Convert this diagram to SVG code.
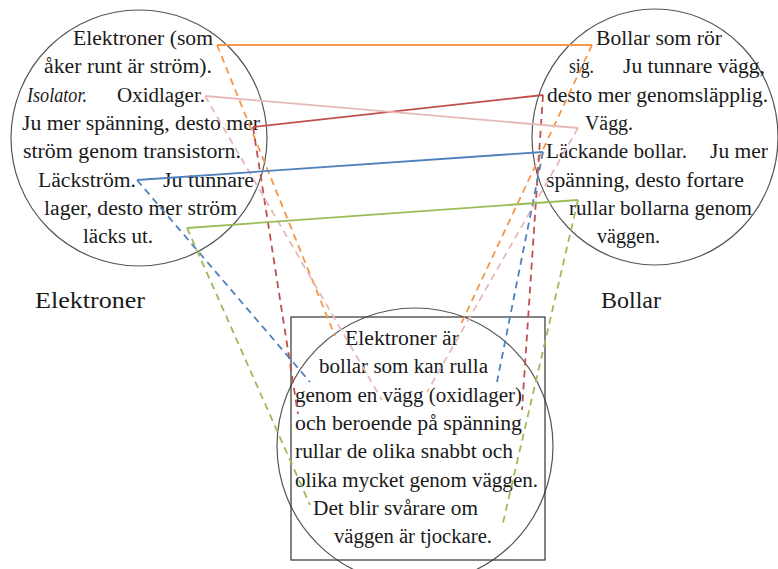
<svg xmlns="http://www.w3.org/2000/svg" width="778" height="569" viewBox="0 0 778 569">
<style>
text{font-family:'Liberation Serif','Times New Roman',Times,'DejaVu Serif','Noto Serif',FreeSerif,Georgia,serif;fill:#1a1a1a}
.t{font-size:20px}
.lb{font-size:24px}
.c{fill:none;stroke:#555;stroke-width:1.2}
.s{fill:none;stroke-width:1.8}
.d{fill:none;stroke-width:1.8;stroke-dasharray:7 5}
.or{stroke:#F79646}.rd{stroke:#C0504D}.pk{stroke:#E6B9B8}.bl{stroke:#4F81BD}.gr{stroke:#9BBB59}
</style>
<rect width="778" height="569" fill="#fff"/>
<g id="elektroner">
<ellipse class="c" cx="139" cy="138" rx="128" ry="128"/>
<text class="t" x="73" y="45" textLength="140" lengthAdjust="spacingAndGlyphs">Elektroner (som</text>
<text class="t" x="44" y="73" textLength="168" lengthAdjust="spacingAndGlyphs">åker runt är ström).</text>
<text class="t" x="27" y="102" textLength="60" lengthAdjust="spacingAndGlyphs" font-style="italic">Isolator.</text>
<text class="t" x="117" y="102" textLength="88" lengthAdjust="spacingAndGlyphs">Oxidlager.</text>
<text class="t" x="22" y="130" textLength="238" lengthAdjust="spacingAndGlyphs">Ju mer spänning, desto mer</text>
<text class="t" x="23" y="158" textLength="218" lengthAdjust="spacingAndGlyphs">ström genom transistorn.</text>
<text class="t" x="38" y="187" textLength="98" lengthAdjust="spacingAndGlyphs">Läckström.</text>
<text class="t" x="163" y="187" textLength="91" lengthAdjust="spacingAndGlyphs">Ju tunnare</text>
<text class="t" x="44" y="215" textLength="193" lengthAdjust="spacingAndGlyphs">lager, desto mer ström</text>
<text class="t" x="83" y="243" textLength="70" lengthAdjust="spacingAndGlyphs">läcks ut.</text>
</g>
<g id="bollar">
<ellipse class="c" cx="655" cy="137" rx="123" ry="128"/>
<text class="t" x="596" y="45" textLength="126" lengthAdjust="spacingAndGlyphs">Bollar som rör</text>
<text class="t" x="569" y="73" textLength="25" lengthAdjust="spacingAndGlyphs">sig.</text>
<text class="t" x="623" y="73" textLength="142" lengthAdjust="spacingAndGlyphs">Ju tunnare vägg,</text>
<text class="t" x="547" y="102" textLength="221" lengthAdjust="spacingAndGlyphs">desto mer genomsläpplig.</text>
<text class="t" x="585" y="130" textLength="48" lengthAdjust="spacingAndGlyphs">Vägg.</text>
<text class="t" x="546" y="158" textLength="141" lengthAdjust="spacingAndGlyphs">Läckande bollar.</text>
<text class="t" x="710" y="158" textLength="58" lengthAdjust="spacingAndGlyphs">Ju mer</text>
<text class="t" x="546" y="187" textLength="198" lengthAdjust="spacingAndGlyphs">spänning, desto fortare</text>
<text class="t" x="569" y="215" textLength="183" lengthAdjust="spacingAndGlyphs">rullar bollarna genom</text>
<text class="t" x="597" y="243" textLength="63" lengthAdjust="spacingAndGlyphs">väggen.</text>
</g>
<g id="label-elektroner">
<text class="lb" x="35" y="308" textLength="110" lengthAdjust="spacingAndGlyphs">Elektroner</text>
</g>
<g id="label-bollar">
<text class="lb" x="601" y="308" textLength="60" lengthAdjust="spacingAndGlyphs">Bollar</text>
</g>
<g id="sammanfattning">
<ellipse class="c" cx="415" cy="446" rx="138" ry="138"/>
<rect x="291" y="317" width="254" height="243" fill="none" stroke="#333" stroke-width="1.2"/>
<text class="t" x="345" y="345" textLength="114" lengthAdjust="spacingAndGlyphs">Elektroner är</text>
<text class="t" x="319" y="373" textLength="169" lengthAdjust="spacingAndGlyphs">bollar som kan rulla</text>
<text class="t" x="295" y="402" textLength="227" lengthAdjust="spacingAndGlyphs">genom en vägg (oxidlager)</text>
<text class="t" x="295" y="430" textLength="227" lengthAdjust="spacingAndGlyphs">och beroende på spänning</text>
<text class="t" x="295" y="458" textLength="218" lengthAdjust="spacingAndGlyphs">rullar de olika snabbt och</text>
<text class="t" x="295" y="487" textLength="243" lengthAdjust="spacingAndGlyphs">olika mycket genom väggen.</text>
<text class="t" x="313" y="515" textLength="165" lengthAdjust="spacingAndGlyphs">Det blir svårare om</text>
<text class="t" x="334" y="543" textLength="158" lengthAdjust="spacingAndGlyphs">väggen är tjockare.</text>
</g>
<g id="connectors">
<path class="s or" d="M217,45 H592"/>
<path class="d or" d="M217,45 L335,336"/>
<path class="d or" d="M592,45 L461,324"/>
<path class="s rd" d="M253,127 L543,95"/>
<path class="d rd" d="M253,127 L298,414"/>
<path class="d rd" d="M543,95 L522,410"/>
<path class="s pk" d="M205,96 L578,128"/>
<path class="d pk" d="M205,96 L382,400"/>
<path class="d pk" d="M578,128 L427,392"/>
<path class="s bl" d="M137,180 L543,152"/>
<path class="d bl" d="M137,180 L310,382"/>
<path class="d bl" d="M543,152 L497,382"/>
<path class="s gr" d="M187,228 L578,200"/>
<path class="d gr" d="M187,228 L310,505"/>
<path class="d gr" d="M578,200 L502,527"/>
</g>
</svg>
